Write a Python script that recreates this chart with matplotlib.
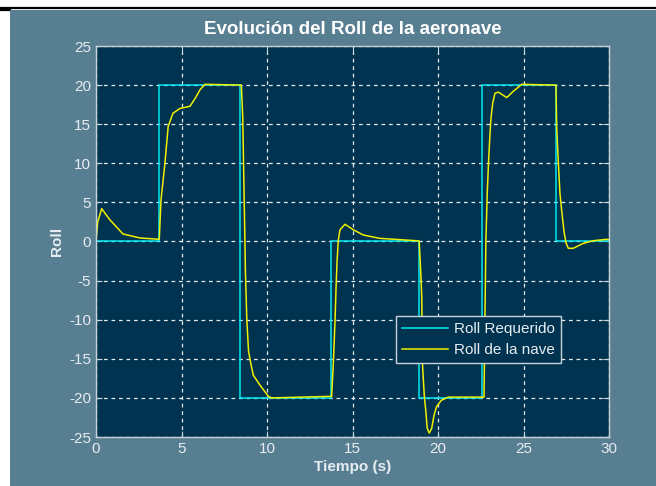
import matplotlib
matplotlib.use('Agg')
import matplotlib.pyplot as plt
from matplotlib.patches import Rectangle
from matplotlib.lines import Line2D
import numpy as np

plt.rcParams['font.family'] = ['Liberation Sans', 'DejaVu Sans']
plt.rcParams['axes.unicode_minus'] = False

# Commanded roll (step changes)
t_ref = [0, 3.7, 3.7, 8.45, 8.45, 13.75, 13.75, 18.9, 18.9, 22.6, 22.6, 26.9, 26.9, 30]
roll_ref = [0, 0, 20, 20, -20, -20, 0, 0, -20, -20, 20, 20, 0, 0]

# Aircraft roll response
t_nave = [0, 0.1, 0.33, 0.8, 1.58, 2.57, 3.7,
          3.8, 4.03, 4.22, 4.5, 4.9, 5.5, 5.8, 6.08, 6.37, 8.5,
          8.58, 8.66, 8.74, 8.82, 8.92, 9.05, 9.2, 9.6, 10.08, 10.27, 13.78,
          13.88, 13.98, 14.04, 14.1, 14.17, 14.27, 14.56, 15.05, 15.63, 16.6, 18.75, 18.9,
          18.99, 19.05, 19.1, 19.2, 19.28, 19.37, 19.49, 19.63, 19.77, 19.92, 20.2, 20.6, 22.69,
          22.8, 22.88, 22.96, 23.04, 23.1, 23.2, 23.33, 23.53, 24.02, 24.4, 24.9, 26.9,
          26.94, 27.03, 27.13, 27.23, 27.37, 27.49, 27.62, 27.91, 28.5, 29.08, 29.86, 30]
roll_nave = [0, 2.5, 4.2, 2.8, 0.96, 0.45, 0.28,
             5.3, 10.0, 14.7, 16.4, 17.0, 17.3, 18.3, 19.4, 20.1, 20.0,
             16.0, 6.0, -4.0, -10.0, -14.0, -15.6, -17.1, -18.4, -19.8, -20.0, -19.8,
             -15.5, -10.0, -5.8, -2.4, 0.2, 1.5, 2.2, 1.5, 0.83, 0.4, 0.1, 0.05,
             -3.9, -7.1, -16.0, -19.8, -21.5, -23.9, -24.5, -23.9, -22.2, -21.1, -20.3, -19.9, -19.9,
             0.0, 6.2, 10.4, 13.8, 15.8, 17.7, 18.95, 19.1, 18.4, 19.2, 20.1, 20.0,
             14.7, 10.4, 6.2, 4.0, 1.25, -0.2, -0.87, -0.87, -0.23, 0.1, 0.28, 0.25]

x_ticks = [0, 5, 10, 15, 20, 25, 30]
y_ticks = [-25, -20, -15, -10, -5, 0, 5, 10, 15, 20, 25]

PANEL = '#587e91'
AX_BG = '#00334f'
FG = '#e6edf2'

fig = plt.figure(figsize=(6.56, 4.86), dpi=100, facecolor='white')

# figure background panel and top rule
fig.patches.append(Rectangle((10 / 656, 0), 1 - 10 / 656, (486 - 10) / 486,
                             transform=fig.transFigure, facecolor=PANEL,
                             edgecolor='none', zorder=-10))
fig.lines.append(Line2D([0, 1], [478 / 486, 478 / 486], transform=fig.transFigure,
                        color='black', linewidth=1.6, zorder=-10))
fig.lines.append(Line2D([0, 10 / 656], [476 / 486, 476 / 486], transform=fig.transFigure,
                        color='black', linewidth=1.6, zorder=-10))

ax = fig.add_axes([96 / 656, 49 / 486, 513 / 656, 391 / 486])
ax.set_facecolor(AX_BG)

ax.plot(t_ref, roll_ref, color='#00e8f0', linewidth=1.1, label='Roll Requerido')
ax.plot(t_nave, roll_nave, color='#f0f000', linewidth=1.1, label='Roll de la nave')

ax.set_xlim(0, 30)
ax.set_ylim(-25, 25)
ax.set_xticks(x_ticks)
ax.set_yticks(y_ticks)
ax.grid(True, color='white', linestyle=(0, (3, 3)), linewidth=0.9, alpha=0.9)
ax.tick_params(direction='in', top=True, right=True, colors='#c8d2da',
               labelcolor=FG, labelsize=11, length=4)
for s in ax.spines.values():
    s.set_color('#c8d2da')
    s.set_linewidth(1.0)

ax.set_title('Evolución del Roll de la aeronave', color='white', fontsize=13.5,
             fontweight='bold', pad=9)
ax.set_xlabel('Tiempo (s)', color=FG, fontsize=11, fontweight='bold', labelpad=3)
ax.set_ylabel('Roll', color=FG, fontsize=11, fontweight='bold', labelpad=4)

leg = ax.legend(loc='lower left', bbox_to_anchor=(0.585, 0.189), fontsize=11,
                frameon=True, fancybox=False, borderpad=0.4, labelspacing=0.45,
                handlelength=3.0, handletextpad=0.4, borderaxespad=0)
leg.get_frame().set_facecolor(AX_BG)
leg.get_frame().set_edgecolor('#c8d2da')
leg.get_frame().set_alpha(1)
for txt in leg.get_texts():
    txt.set_color(FG)

fig.savefig('out.png', dpi=100, facecolor='white')
